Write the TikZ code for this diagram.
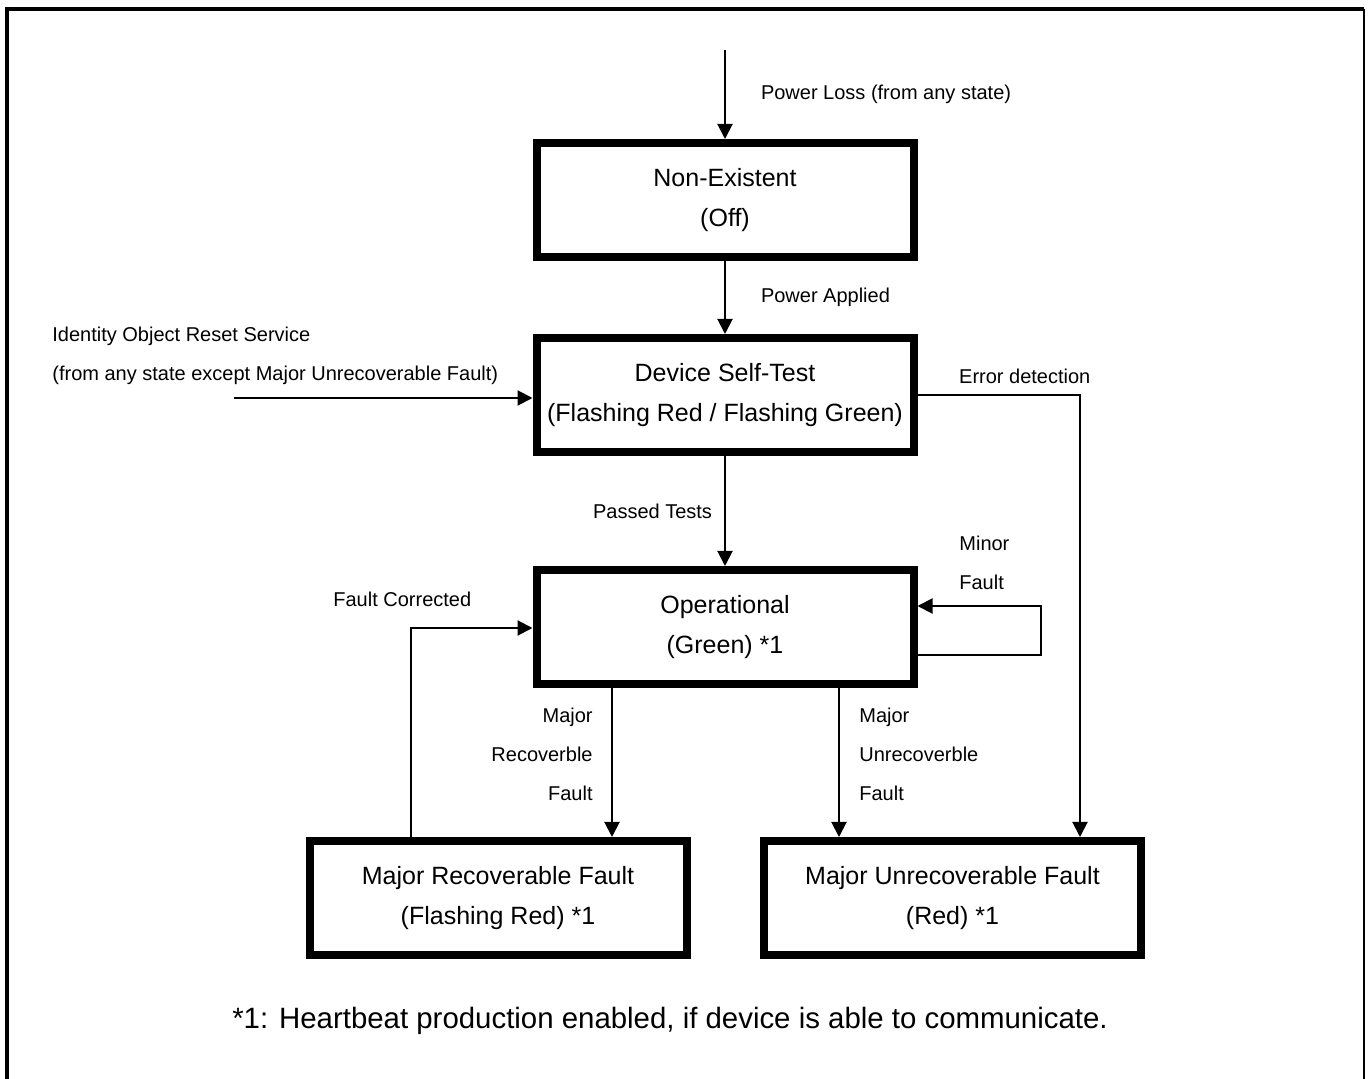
\documentclass[tikz,border=0pt]{standalone}
\usepackage{fontspec}
\setmainfont{Liberation Sans}
\usetikzlibrary{arrows.meta,positioning}

\begin{document}
\begin{tikzpicture}[x=0.5pt, y=-0.5pt, >={Triangle[length=7.5pt,width=7.5pt]},
  state/.style={draw, rectangle, line width=4pt, minimum width=188.5pt, minimum height=57pt, inner sep=0pt, align=center, font=\fontsize{12.5}{20}\selectfont},
  lbl/.style={inner sep=0pt, align=left, font=\fontsize{10}{19.5}\selectfont},
  link/.style={->, line width=1pt}]
\useasboundingbox (0,0) rectangle (1372,1079);
% frame
\draw[line width=2pt] (7,1079) -- (7,9) -- (1364,9);
\draw[line width=1.3pt] (1364,9) -- (1364,1079);

% states
\node[state] (nonex) at (725,200) {Non-Existent\\(Off)};
\node[state] (selftest) [below=36.5pt of nonex] {Device Self-Test\\(Flashing Red / Flashing Green)};
\node[state] (oper) [below=55pt of selftest] {Operational\\(Green) *1};
\node[state] (mrf) [below=74.5pt of oper, xshift=-113.5pt] {Major Recoverable Fault\\(Flashing Red) *1};
\node[state] (muf) [below=74.5pt of oper, xshift=113.75pt] {Major Unrecoverable Fault\\(Red) *1};

% transitions
\coordinate (pwr) at (725,50);
\draw[link] (pwr) -- (nonex) node[lbl, midway, right, xshift=17.5pt] {Power Loss (from any state)};
\draw[link] (nonex) -- (selftest) node[lbl, midway, right, xshift=17.5pt] {Power Applied};

\coordinate (rst) at (234,398);
\draw[link] (rst) -- (rst -| selftest.west);
\node[lbl, anchor=west] (rsttxt) at (52,356) {Identity Object Reset Service\\(from any state except Major Unrecoverable Fault)};

\coordinate (err) at (1080,395);
\draw[link] (err -| selftest.east) -- node[lbl, above, pos=0.66, yshift=5pt] {Error detection} (err) -- (err |- muf.north);

\draw[link] (selftest) -- node[lbl, left, xshift=-6pt] {Passed Tests} (oper);

\draw[link] ([yshift=-14pt]oper.east) -- ++(61.5pt,0) |- ([yshift=10.5pt]oper.east);
\node[lbl, anchor=west] (minor) at (959,563) {Minor\\Fault};

\coordinate (fc) at (411,628);
\draw[link] (fc |- mrf.north) -- (fc) -- (fc -| oper.west);
\node[lbl, anchor=west] (fctxt) at (333,599) {Fault Corrected};

\coordinate (mr) at (612,700);
\draw[link] (mr |- oper.south) -- (mr |- mrf.north);
\node[lbl, anchor=east, align=right] (mrtxt) at (593,754) {Major\\Recoverble\\Fault};

\coordinate (mu) at (839,700);
\draw[link] (mu |- oper.south) -- (mu |- muf.north);
\node[lbl, anchor=west] (mutxt) at (859,754) {Major\\Unrecoverble\\Fault};

% footnote
\node[font=\fontsize{14.7}{17}\selectfont] (note) at (670,1021) {*1: Heartbeat production enabled, if device is able to communicate.};
\end{tikzpicture}
\end{document}
